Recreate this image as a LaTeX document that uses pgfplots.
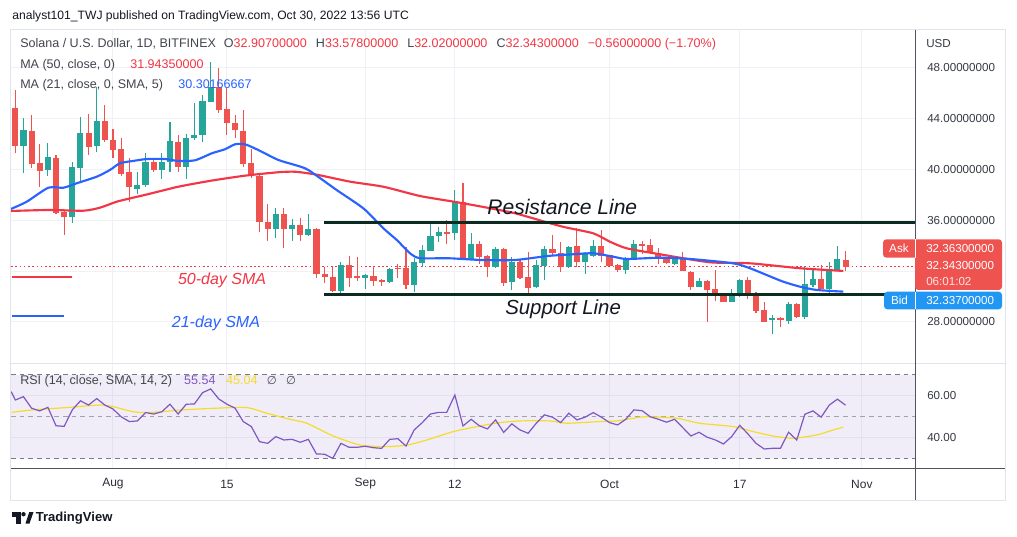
\documentclass[border=0pt]{standalone}
\usepackage{pgfplots}
\pgfplotsset{compat=1.18}
\usepackage{pgfplotstable}
\usepackage{fontspec}
\setmainfont{Liberation Sans}
\newfontfamily\dejavu{DejaVu Sans}
\definecolor{up}{HTML}{26A69A}
\definecolor{down}{HTML}{EF5350}
\definecolor{maRed}{HTML}{F23645}
\definecolor{maBlue}{HTML}{2962FF}
\definecolor{rsiPurple}{HTML}{7E57C2}
\definecolor{rsiYellow}{HTML}{F5DC2A}
\definecolor{txt}{HTML}{131722}
\definecolor{gridc}{HTML}{EEF1F6}
\definecolor{lineDark}{HTML}{0B2B21}
\definecolor{bidBlue}{HTML}{2196F3}
\definecolor{framec}{HTML}{E0E3EB}
\definecolor{axisgray}{HTML}{50535E}
\definecolor{dashc}{HTML}{787B86}

\pgfplotstableread{
d o h l c
-11 41.88 44.09 39.71 43.12
-8 39.94 42.12 39.52 41.02
-5 36.29 40.57 35.77 40.20
-4 40.15 44.17 39.05 42.88
-2 41.88 46.53 41.41 43.83
3 38.47 39.83 38.06 38.79
4 38.79 41.28 38.60 40.62
6 39.97 41.28 39.26 40.62
7 40.57 43.77 39.83 42.25
9 40.23 42.78 39.26 42.46
10 42.46 45.22 42.33 42.72
11 42.72 45.87 42.15 45.40
12 45.35 48.45 45.30 46.53
20 35.32 37.00 34.59 36.48
22 35.32 36.11 34.38 35.64
24 34.85 36.50 34.80 35.30
28 30.46 32.75 30.20 32.46
31 31.44 31.78 30.57 31.70
34 31.17 32.23 31.10 32.15
37 30.91 33.02 30.39 32.72
38 32.67 34.06 32.35 33.67
39 33.61 35.90 33.55 34.77
40 34.77 35.46 34.32 35.09
42 34.98 38.39 34.46 37.53
44 32.94 34.98 32.90 34.14
47 32.31 33.93 32.25 33.72
49 31.17 33.09 30.52 32.75
52 30.73 32.88 30.70 32.49
53 32.41 33.98 31.31 33.72
56 32.35 34.01 32.23 33.88
58 32.70 33.49 31.76 33.33
59 33.22 34.46 33.14 33.98
63 32.09 33.14 31.76 33.02
64 32.88 34.46 32.85 34.14
69 32.57 33.14 32.49 32.94
72 30.78 31.44 30.75 31.23
76 29.60 30.57 29.55 30.26
77 30.05 31.36 29.99 31.31
81 28.16 28.55 27.03 28.29
83 28.10 29.60 27.84 29.42
85 28.42 32.41 28.21 30.99
86 30.91 32.23 30.73 31.36
88 30.57 32.75 30.20 32.17
89 32.09 34.01 32.02 32.96
}\upT

\pgfplotstableread{
d o h l c
-12 44.87 46.27 41.33 41.88
-10 43.04 44.30 40.10 40.46
-9 40.54 41.99 38.65 39.91
-7 40.94 41.15 36.50 36.61
-6 36.64 36.70 34.85 36.27
-3 42.88 44.38 41.15 41.80
-1 43.83 45.09 42.15 42.33
0 42.33 43.20 40.89 41.54
1 41.62 42.46 39.52 39.63
2 39.79 40.89 37.47 38.65
5 40.57 40.76 39.83 39.97
8 42.15 42.72 39.79 40.23
13 46.53 47.98 44.43 44.69
14 44.77 46.40 42.72 43.65
15 43.65 44.30 42.51 43.12
16 43.04 44.69 40.23 40.44
17 40.50 41.60 39.36 39.52
18 39.52 39.60 35.11 35.85
19 35.90 37.29 34.40 35.32
21 36.50 36.95 33.85 35.32
23 35.64 36.17 34.40 34.85
25 35.30 35.38 31.44 31.76
26 31.76 32.31 31.09 31.52
27 31.52 32.35 30.39 30.46
29 32.49 33.20 30.78 31.44
30 31.62 33.09 31.25 31.49
32 31.62 32.41 30.83 31.25
33 31.31 31.35 30.83 31.17
35 32.28 32.57 31.44 32.15
36 32.28 33.88 30.57 30.91
41 35.09 36.03 34.14 34.98
43 37.43 38.97 32.90 32.94
45 34.14 34.40 32.57 33.09
46 33.20 33.28 31.57 32.31
48 33.72 33.80 30.83 31.09
50 32.75 32.94 31.40 31.44
51 31.57 33.54 30.20 30.65
54 33.72 34.85 33.28 33.41
55 33.41 34.32 31.96 32.31
57 33.98 35.43 32.35 32.75
60 33.98 35.24 32.75 33.22
61 33.28 33.30 32.40 32.43
62 32.49 32.54 31.96 32.09
65 34.14 34.38 33.33 34.01
66 34.06 34.54 33.33 33.49
67 33.41 33.80 32.54 33.02
68 33.06 33.14 32.54 32.62
70 33.02 33.49 32.00 32.02
71 31.96 32.00 30.52 30.78
73 31.23 31.30 28.02 30.52
74 30.57 32.09 29.68 30.05
75 30.05 30.31 29.55 29.60
78 31.31 31.52 29.81 30.13
79 30.31 30.39 28.73 28.89
80 28.94 29.60 27.98 28.02
82 28.29 28.37 27.63 28.16
84 29.42 29.52 28.29 28.37
87 31.39 32.49 30.57 30.60
90 32.907 33.578 32.02 32.343
}\downT

\pgfplotstableread{
d r
-12.5 62.0
-12 58.0
-11 59.6
-10 54.1
-9 52.8
-8 54.5
-7 45.7
-6 45.4
-5 53.3
-4 57.6
-3 55.6
-2 58.7
-1 55.6
0 53.7
1 50.0
2 47.7
3 48.0
4 52.0
5 51.3
6 52.4
7 56.0
8 51.3
9 56.0
10 56.1
11 61.5
12 63.3
13 58.5
14 56.0
15 54.1
16 47.7
17 45.3
18 38.1
19 37.3
20 40.5
21 38.9
22 39.2
23 37.8
24 39.2
25 32.2
26 32.1
27 30.1
28 37.3
29 35.4
30 35.4
31 35.9
32 35.2
33 34.9
34 39.2
35 39.5
36 36.0
37 43.7
38 47.2
39 51.3
40 52.1
41 52.1
42 60.4
43 45.6
44 48.8
45 45.7
46 44.2
47 48.5
48 42.5
49 46.6
50 43.7
51 42.1
52 46.9
53 50.9
54 49.8
55 47.2
56 51.7
57 48.5
58 49.8
59 52.0
60 49.8
61 47.2
62 46.1
63 48.8
64 53.3
65 52.9
66 50.0
67 48.8
68 47.4
69 48.8
70 44.8
71 40.8
72 42.6
73 40.2
74 38.9
75 37.0
76 40.5
77 45.9
78 41.8
79 37.3
80 34.6
81 34.9
82 34.9
83 42.6
84 38.9
85 51.2
86 52.8
87 49.8
88 55.6
89 58.4
90 55.54
}\rsiT

\begin{document}
\begin{tikzpicture}
\begin{scope}[x=0.75pt,y=0.75pt]
\path[use as bounding box] (0,0) rectangle (1017,536);
\fill[white] (0,0) rectangle (1017,536);
\draw[framec, line width=0.75pt] (10.5,36) rectangle (1005.5,506);
\end{scope}

% ---------------- main price pane
\begin{axis}[
  at={(8.25pt,129.75pt)}, anchor=south west,
  width=678pt, height=249.75pt, scale only axis,
  xmin=-12.53, xmax=98.53, ymin=24.77, ymax=50.99,
  axis line style={draw=none}, tick style={draw=none},
  major tick length=0pt,
  xtick={0,14,31,42,61,77,92}, xticklabels={},
  ytick={28,32,36,40,44,48},
  yticklabels={28.00000000,,36.00000000,40.00000000,44.00000000,48.00000000},
  yticklabel pos=right,
  yticklabel style={font=\fontsize{8.7}{10}\selectfont, text=txt!85, anchor=west, inner sep=0pt, xshift=9pt},
  grid=major, grid style={gridc, line width=0.75pt},
  clip=true,
]
% ask dotted line
\addplot[maRed, line width=0.8pt, dash pattern=on 1.2pt off 2pt, forget plot] coordinates {(-12.53,32.343) (98.53,32.343)};
% wicks
\addplot[draw=none, mark=none, forget plot, error bars/.cd, y dir=both, y explicit, error mark=none,
  error bar style={draw=up, line width=0.8pt}]
  table[x=d, y expr={(\thisrow{h}+\thisrow{l})/2}, y error expr={(\thisrow{h}-\thisrow{l})/2}] {\upT};
\addplot[draw=none, mark=none, forget plot, error bars/.cd, y dir=both, y explicit, error mark=none,
  error bar style={draw=down, line width=0.8pt}]
  table[x=d, y expr={(\thisrow{h}+\thisrow{l})/2}, y error expr={(\thisrow{h}-\thisrow{l})/2}] {\downT};
% bodies
\addplot[draw=none, mark=none, forget plot, error bars/.cd, y dir=both, y explicit, error mark=none,
  error bar style={draw=up, line width=4.6pt}]
  table[x=d, y expr={(\thisrow{o}+\thisrow{c})/2}, y error expr={max(abs(\thisrow{c}-\thisrow{o})/2,0.045)}] {\upT};
\addplot[draw=none, mark=none, forget plot, error bars/.cd, y dir=both, y explicit, error mark=none,
  error bar style={draw=down, line width=4.6pt}]
  table[x=d, y expr={(\thisrow{o}+\thisrow{c})/2}, y error expr={max(abs(\thisrow{c}-\thisrow{o})/2,0.045)}] {\downT};
% 50-day MA
\addplot[maRed, line width=1.6pt, smooth, tension=0.4] coordinates {
(-12.53,36.74) (-7.74,36.82) (-3.65,36.76) (-1.6,37.0) (0.45,37.47) (2.49,37.79) (4.55,38.10) (8.02,38.65) (12.1,39.13) (16.22,39.52) (20.3,39.79) (22.36,39.83) (25.02,39.6) (29.12,39.05) (33.21,38.65) (37.71,37.92) (41.89,37.47) (45.3,37.08) (49.39,36.56) (53.44,35.82) (55.53,35.46) (59.0,34.98) (61.06,34.32) (63.11,33.80) (67.2,33.33) (73.34,32.70) (78.26,32.62) (84.4,32.23) (89.72,32.02)};
% 21-day MA
\addplot[maBlue, line width=1.6pt, smooth, tension=0.4] coordinates {
(-12.53,36.9) (-10.6,37.47) (-7.95,38.57) (-6.1,38.57) (-4.46,38.92) (-2.0,39.44) (-0.37,39.97) (0.86,40.50) (2.49,40.68) (4.14,40.83) (6.39,40.83) (8.02,40.68) (10.07,40.73) (12.14,41.28) (13.76,41.60) (15.0,41.99) (16.22,41.99) (17.85,41.54) (20.3,40.76) (22.36,40.36) (23.99,39.97) (27.48,38.39) (30.75,36.95) (33.21,35.38) (34.86,34.46) (36.49,33.41) (37.71,33.02) (41.17,33.02) (45.3,32.88) (49.39,32.88) (53.48,33.20) (56.5,33.33) (59.0,33.41) (61.46,33.14) (63.11,32.96) (67.2,33.06) (71.1,32.95) (76.2,32.62) (78.26,32.23) (80.3,31.70) (82.35,31.17) (84.4,30.78) (86.45,30.52) (89.72,30.39)};
% resistance / support lines
\addplot[lineDark, line width=2.2pt] coordinates {(25.9,35.85) (98.53,35.85)};
\addplot[lineDark, line width=2.2pt] coordinates {(25.9,30.13) (98.53,30.13)};
% legend-like strokes
\addplot[maRed, line width=1.6pt] coordinates {(-12.4,31.54) (-5.0,31.54)};
\addplot[maBlue, line width=1.6pt] coordinates {(-12.4,28.47) (-6.0,28.47)};
\node[font=\fontsize{12}{14}\selectfont\itshape, text=maRed] at (axis cs:13.4,31.31) {50-day SMA};
\node[font=\fontsize{12}{14}\selectfont\itshape, text=maBlue] at (axis cs:12.65,27.92) {21-day SMA};
\node[font=\fontsize{15.8}{18}\selectfont\itshape, text=txt] at (axis cs:55.2,37.06) {Resistance Line};
\node[font=\fontsize{15.3}{18}\selectfont\itshape, text=txt] at (axis cs:55.3,29.02) {Support Line};
\end{axis}

% ---------------- RSI pane
\begin{axis}[
  at={(8.25pt,51pt)}, anchor=south west,
  width=678pt, height=78.75pt, scale only axis,
  xmin=-12.53, xmax=98.53, ymin=25.5, ymax=75.7,
  axis line style={draw=none}, tick style={draw=none},
  major tick length=0pt,
  xtick={0,14,31,42,61,77,92}, xticklabels={Aug,15,Sep,12,Oct,17,Nov},
  xticklabel style={font=\fontsize{9}{11}\selectfont, text=txt!90, anchor=center, yshift=-12pt},
  ytick={40,60}, yticklabels={40.00,60.00},
  yticklabel pos=right,
  yticklabel style={font=\fontsize{8.7}{10}\selectfont, text=txt!85, anchor=west, inner sep=0pt, xshift=9pt},
  grid=major, grid style={gridc, line width=0.75pt},
  clip=true,
]
\addplot[draw=none, fill=rsiPurple, fill opacity=0.1, forget plot] coordinates {(-12.53,30) (-12.53,70) (98.53,70) (98.53,30) (-12.53,30)};
\addplot[dashc, line width=0.75pt, dash pattern=on 3.5pt off 3pt] coordinates {(-12.53,70) (98.53,70)};
\addplot[dashc!70, line width=0.75pt, dash pattern=on 3.5pt off 3pt] coordinates {(-12.53,50) (98.53,50)};
\addplot[dashc, line width=0.75pt, dash pattern=on 3.5pt off 3pt] coordinates {(-12.53,30) (98.53,30)};
\addplot[rsiYellow, line width=0.9pt, smooth, tension=0.4] coordinates {
(-12.44,52.1) (-9.79,53.3) (-5.69,54.4) (-1.6,55.6) (0.04,54.8) (2.49,52.4) (4.55,52.0) (8.64,53.3) (12.74,54.1) (16.43,54.4) (18.88,51.7) (21.74,48.8) (23.8,46.9) (27.06,40.8) (30.34,36.5) (33.21,35.7) (36.08,36.4) (38.54,38.9) (41.81,42.9) (45.09,45.6) (47.54,47.2) (50.0,48.0) (53.69,48.0) (55.74,46.9) (59.83,47.7) (61.88,48.0) (64.74,49.8) (65.97,50.0) (69.25,49.3) (72.07,46.9) (76.2,45.3) (78.66,42.9) (81.12,40.8) (83.57,39.7) (86.45,41.3) (88.49,43.7) (89.72,45.04)};
\addplot[rsiPurple, line width=0.9pt] table[x=d, y=r] {\rsiT};
\end{axis}

\begin{scope}[x=0.75pt,y=0.75pt]
% ---------------- frame lines
\draw[framec, line width=0.75pt] (11,173) -- (1005,173);
\draw[axisgray, line width=0.75pt] (915,36) -- (915,506);
\draw[axisgray, line width=0.75pt] (11,68) -- (1005,68);

% ---------------- header texts
\node[anchor=west, inner sep=0pt, font=\fontsize{9.1}{11}\selectfont, text=txt] at (12,520) {analyst101\_TWJ published on TradingView.com, Oct 30, 2022 13:56 UTC};
\node[anchor=west, inner sep=0pt, font=\fontsize{9.4}{11}\selectfont, text=txt!80] at (20,492) {Solana / U.S. Dollar, 1D, BITFINEX\hspace{6pt}O\textcolor{maRed}{32.90700000}\hspace{6.8pt}H\textcolor{maRed}{33.57800000}\hspace{6.8pt}L\textcolor{maRed}{32.02000000}\hspace{6.8pt}C\textcolor{maRed}{32.34300000}\hspace{6.8pt}\textcolor{maRed}{−0.56000000 (−1.70\%)}};
\node[anchor=west, inner sep=0pt, font=\fontsize{9.4}{11}\selectfont, text=txt!80] at (20,471) {MA (50, close, 0)\hspace{11.5pt}\textcolor{maRed}{31.94350000}};
\node[anchor=west, inner sep=0pt, font=\fontsize{9.4}{11}\selectfont, text=txt!80] at (20,451) {MA (21, close, 0, SMA, 5)\hspace{11.5pt}\textcolor{maBlue}{30.30166667}};
\node[anchor=west, inner sep=0pt, font=\fontsize{9.4}{11}\selectfont, text=txt!80] at (20,155) {RSI (14, close, SMA, 14, 2)\hspace{9pt}\textcolor{rsiPurple}{55.54}\hspace{8pt}\textcolor{rsiYellow}{45.04}\hspace{7pt}{\dejavu\fontsize{8.5}{10}\selectfont ∅}\hspace{7pt}{\dejavu\fontsize{8.5}{10}\selectfont ∅}};
\node[anchor=west, inner sep=0pt, font=\fontsize{8.7}{10}\selectfont, text=txt!85] at (926,492) {USD};

% ---------------- ask / bid boxes
\fill[down, rounded corners=2.5pt] (883,278.3) rectangle (920,296.7);
\fill[down, rounded corners=2.5pt] (915,246) rectangle (1002,296.7);
\fill[bidBlue, rounded corners=2.5pt] (884,226.7) rectangle (1002,244.3);
\draw[white, line width=0.6pt] (915,278.3) -- (915,296.7);
\draw[white, line width=0.6pt] (915,226.7) -- (915,244.3);
\node[anchor=center, inner sep=0pt, font=\fontsize{8.8}{10}\selectfont, text=white] at (899,287.5) {Ask};
\node[anchor=west, inner sep=0pt, font=\fontsize{8.7}{10}\selectfont, text=white] at (926,287.5) {32.36300000};
\node[anchor=west, inner sep=0pt, font=\fontsize{8.7}{10}\selectfont, text=white] at (926,270) {32.34300000};
\node[anchor=west, inner sep=0pt, font=\fontsize{8.7}{10}\selectfont, text=white!85!down] at (926,254) {06:01:02};
\node[anchor=center, inner sep=0pt, font=\fontsize{8.8}{10}\selectfont, text=white] at (899.5,235.5) {Bid};
\node[anchor=west, inner sep=0pt, font=\fontsize{8.7}{10}\selectfont, text=white] at (926,235.5) {32.33700000};

% ---------------- TradingView logo
\fill[txt] (12,19.5) rectangle (20.5,24);
\fill[txt] (16,12.5) rectangle (20.5,24);
\fill[txt] (23.5,21.8) circle (2.2);
\fill[txt] (25.5,12.5) -- (29.3,24) -- (33.5,24) -- (29.5,12.5) -- cycle;
\node[anchor=west, inner sep=0pt, font=\fontsize{9.8}{11}\selectfont\bfseries, text=txt] at (35.5,18) {TradingView};
\end{scope}
\end{tikzpicture}
\end{document}
